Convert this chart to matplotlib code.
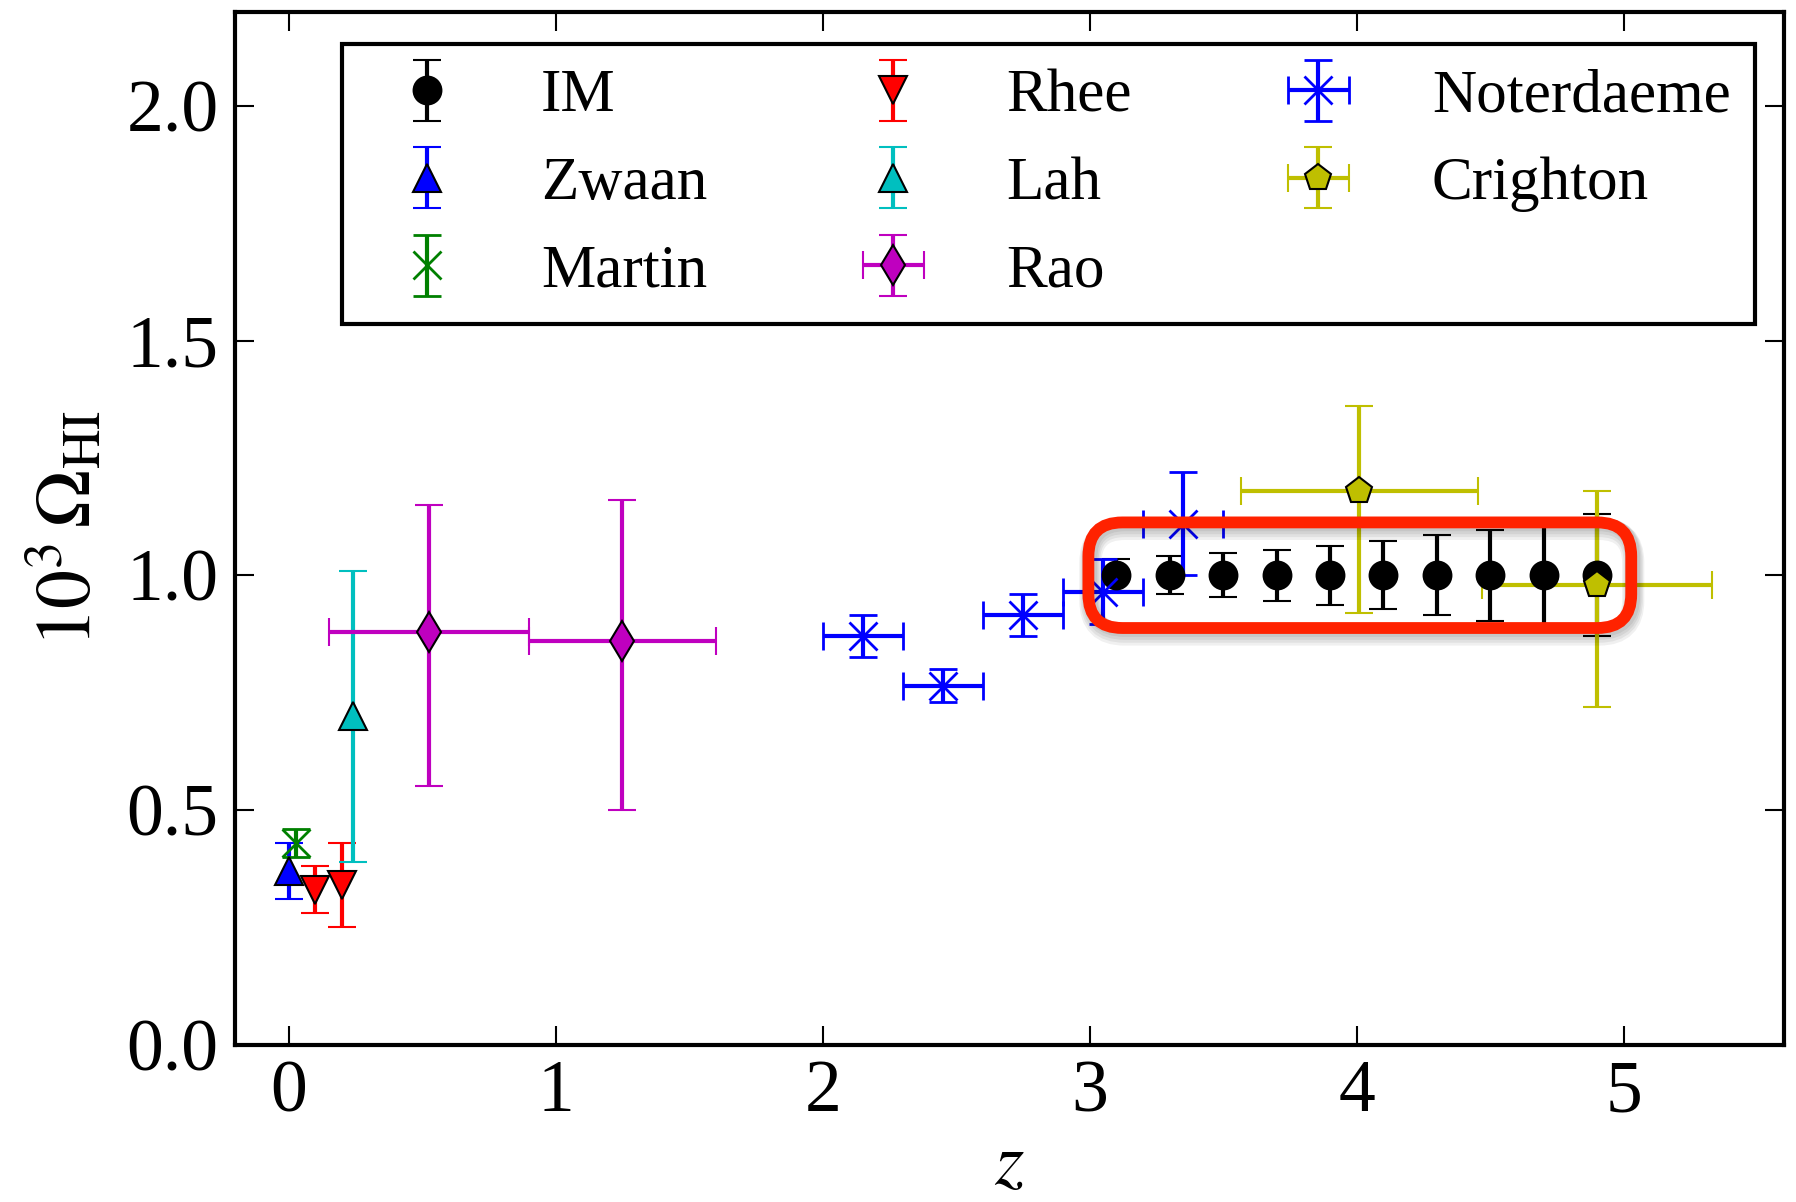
import numpy as np
import matplotlib
matplotlib.use('Agg')
import matplotlib.pyplot as plt
from matplotlib.patches import FancyBboxPatch

# ---------------- data ----------------
im_z = [3.1, 3.3, 3.5, 3.7, 3.9, 4.1, 4.3, 4.5, 4.7, 4.9]
im_omega = [1.0, 1.0, 1.0, 1.0, 1.0, 1.0, 1.0, 1.0, 1.0, 1.0]
im_err = [0.034, 0.041, 0.047, 0.054, 0.063, 0.072, 0.085, 0.097, 0.113, 0.130]

zwaan_z = [0.0]
zwaan_omega = [0.37]
zwaan_err = [0.06]

martin_z = [0.026]
martin_omega = [0.43]
martin_err = [0.03]

rhee_z = [0.1, 0.2]
rhee_omega = [0.33, 0.34]
rhee_err = [0.05, 0.09]

lah_z = [0.24]
lah_omega = [0.70]
lah_err = [0.31]

rao_z = [0.525, 1.25]
rao_zerr = [0.375, 0.35]
rao_omega = [0.88, 0.86]
rao_err_lo = [0.33, 0.36]
rao_err_hi = [0.27, 0.30]

noter_z = [2.15, 2.45, 2.75, 3.05, 3.35]
noter_zerr = [0.15, 0.15, 0.15, 0.15, 0.15]
noter_omega = [0.87, 0.765, 0.915, 0.965, 1.11]
noter_err = [0.045, 0.036, 0.044, 0.07, 0.11]

crighton_z = [4.01, 4.90]
crighton_zerr = [0.445, 0.43]
crighton_omega = [1.18, 0.98]
crighton_err_lo = [0.26, 0.26]
crighton_err_hi = [0.18, 0.20]

x_ticks = [0, 1, 2, 3, 4, 5]
y_ticks = [0.0, 0.5, 1.0, 1.5, 2.0]

# ---------------- style ----------------
plt.rcParams['font.family'] = ['Liberation Serif', 'DejaVu Serif']
plt.rcParams['mathtext.fontset'] = 'stix'

fig = plt.figure(figsize=(17.96, 12.02), dpi=100)
ax = fig.add_axes([0.131, 0.131, 0.8623, 0.859])

common = dict(ls='none', capsize=10, elinewidth=3.0, capthick=2.2,
              markersize=20, mew=1.5, mec='k')

ax.errorbar(im_z, im_omega, yerr=im_err, fmt='o', color='k', label='IM', **common)
ax.errorbar(zwaan_z, zwaan_omega, yerr=zwaan_err, fmt='^', color='b',
            label='Zwaan', **common)
c2 = dict(common); c2['mec'] = (0, 0.5, 0); c2['mew'] = 2
ax.errorbar(martin_z, martin_omega, yerr=martin_err, fmt='x', color=(0, 0.5, 0),
            label='Martin', **c2)
ax.errorbar(rhee_z, rhee_omega, yerr=rhee_err, fmt='v', color='r',
            label='Rhee', **common)
ax.errorbar(lah_z, lah_omega, yerr=lah_err, fmt='^', color=(0, 0.75, 0.75),
            label='Lah', **common)
ax.errorbar(rao_z, rao_omega, xerr=rao_zerr, yerr=[rao_err_lo, rao_err_hi],
            fmt='d', color=(0.75, 0, 0.75), label='Rao', **common)
c3 = dict(common); c3['mec'] = 'b'; c3['mew'] = 2
ax.errorbar(noter_z, noter_omega, xerr=noter_zerr, yerr=noter_err, fmt='x',
            color='b', label='Noterdaeme', **c3)
ax.errorbar(crighton_z, crighton_omega, xerr=crighton_zerr,
            yerr=[crighton_err_lo, crighton_err_hi], fmt='p',
            color=(0.75, 0.75, 0), label='Crighton', **common)

ax.set_xlim(-0.2, 5.6)
ax.set_ylim(0.0, 2.2)
ax.set_xticks(x_ticks)
ax.set_yticks(y_ticks)
ax.set_xticklabels([str(t) for t in x_ticks])
ax.set_yticklabels(['%.1f' % t for t in y_ticks])
ax.tick_params(direction='in', length=14, width=1.5, top=True, right=True,
               labelsize=53)
ax.tick_params(axis='x', pad=11)
ax.tick_params(axis='y', pad=12)
for s in ax.spines.values():
    s.set_linewidth(3)

ax.set_xlabel('$z$', fontsize=54, labelpad=4)
ax.set_ylabel(r'$10^3\,\Omega_{\rm HI}$', fontsize=56, labelpad=14)

leg = ax.legend(ncol=3, loc='upper left',
                bbox_to_anchor=(0.0687, 0.6988, 0.9126, 0.27), mode='expand',
                borderaxespad=0, numpoints=1, handlelength=2.0,
                handletextpad=0.86, labelspacing=0.52, borderpad=0.4,
                fancybox=False, edgecolor='k', framealpha=1, fontsize=44)
leg.get_frame().set_linewidth(3)

# ---------------- highlight box around IM points ----------------
fig.canvas.draw()
bb = ax.get_window_extent()
px_x = bb.width / (5.6 - (-0.2))
px_y = bb.height / (2.2 - 0.0)
aspect = px_x / px_y
x0 = min(im_z) - 0.105
x1 = max(im_z) + 0.128
y0 = np.mean(im_omega) - 0.1125
y1 = np.mean(im_omega) + 0.1125
r = 34.0 / px_x
# soft shadow
for k, a in enumerate([0.06, 0.06, 0.06, 0.06]):
    off_x = 2.0 / px_x
    off_y = -(2.0 + 1.5 * k) / px_y
    sh = FancyBboxPatch((x0 + off_x, y0 + off_y), x1 - x0, y1 - y0,
                        boxstyle='round,pad=0,rounding_size=%f' % r,
                        mutation_aspect=aspect, fill=False,
                        ec=(0, 0, 0, a), lw=10 + 2 * k, zorder=9)
    ax.add_patch(sh)
box = FancyBboxPatch((x0, y0), x1 - x0, y1 - y0,
                     boxstyle='round,pad=0,rounding_size=%f' % r,
                     mutation_aspect=aspect, fill=False, ec='#ff2200', lw=8.5,
                     zorder=10)
ax.add_patch(box)

fig.savefig('out.png', dpi=100)
